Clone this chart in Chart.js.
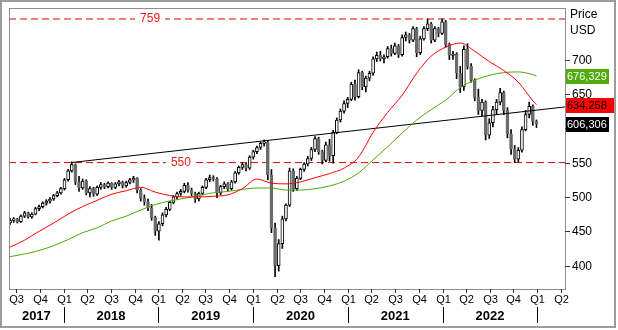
<!DOCTYPE html>
<html>
<head>
<meta charset="utf-8">
<script src="https://cdn.jsdelivr.net/npm/chart.js@4.4.0/dist/chart.umd.min.js"></script>
<style>
  html, body { margin: 0; padding: 0; background: #fff; }
  canvas { display: block; }
</style>
</head>
<body>
<canvas id="chart" width="618" height="330"></canvas>
<script>
// biweekly candles, x = days since 2020-01-01
const firstDay = -937;
const stepDays = 14;

const opens = [
  462,466,468,464,472,477,471,475,483,486,
  491,494,497,502,506,512,525,538,547,522,
  513,523,506,512,504,514,518,515,520,514,
  519,522,516,521,525,527,510,498,493,484,
  470,450,461,474,482,492,500,505,508,517,
  510,505,497,505,514,525,528,526,506,515,
  519,512,522,535,543,547,542,558,566,572,
  578,580,532,455,400,432,468,488,538,512,
  527,540,548,556,569,585,566,553,576,560,
  594,612,625,636,642,664,646,681,660,673,
  680,701,706,701,704,716,709,720,707,732,
  736,728,745,710,730,745,752,728,745,738,
  755,722,706,708,680,660,715,690,670,645,
  626,638,590,608,627,638,652,626,592,570,
  555,568,598,620,632,610
];
const highs = [
  469,470,469,474,479,478,477,485,488,493,
  496,499,504,508,514,527,540,551,548,530,
  526,525,515,514,516,521,520,522,521,521,
  524,523,523,527,530,528,512,503,497,489,
  472,464,477,485,494,502,507,511,520,521,
  513,507,507,516,527,532,531,528,517,522,
  521,524,537,545,550,549,560,568,574,580,
  583,582,540,462,438,472,490,542,541,530,
  542,550,559,572,588,587,568,580,584,597,
  615,628,640,645,667,670,685,683,676,683,
  704,711,712,707,719,721,724,722,736,740,
  738,748,747,734,748,759,754,748,747,759,
  757,724,712,710,690,720,723,694,672,657,
  642,640,614,632,642,658,654,630,598,575,
  572,602,626,638,634,612
];
const lows = [
  460,463,462,463,470,469,469,474,480,484,
  488,491,495,500,504,510,523,536,518,508,
  511,503,500,501,502,511,512,513,511,512,
  516,513,514,519,521,506,494,488,480,466,
  444,437,458,471,480,490,497,502,506,507,
  502,492,494,503,512,522,523,499,503,512,
  509,510,520,533,540,538,540,555,563,569,
  574,525,448,384,392,425,465,486,508,510,
  525,537,545,553,566,562,548,551,552,549,
  592,609,622,630,640,641,644,656,653,669,
  677,697,698,695,702,705,707,703,705,727,
  724,726,704,707,728,742,724,726,733,736,
  718,700,700,672,652,655,686,667,640,620,
  618,583,585,602,620,634,620,586,562,550,
  551,565,596,615,604,601
];
const closes = [
  466,468,464,472,477,471,475,483,486,491,
  494,497,502,506,512,525,538,547,522,513,
  523,506,512,504,514,518,515,520,514,519,
  522,516,521,525,527,510,498,493,484,470,
  450,461,474,482,492,500,505,508,517,510,
  505,497,505,514,525,528,526,506,515,519,
  512,522,535,543,547,542,558,566,572,578,
  580,532,455,400,432,468,488,538,512,527,
  540,548,556,569,585,566,553,576,560,594,
  612,625,636,642,664,646,681,660,673,680,
  701,706,701,704,716,709,720,707,732,736,
  728,745,710,730,745,752,728,745,738,755,
  722,706,708,680,660,715,690,670,645,626,
  638,590,608,627,638,652,626,592,570,555,
  568,598,620,632,610,606.306
];

// moving averages at every 4th candle
const maIndex = [0,4,8,12,16,20,24,28,32,36,40,44,48,52,56,60,64,68,72,76,80,84,88,92,96,100,104,108,112,116,120,124,128,132,136,140,144,145];
const redMA = [427,437,450,462,475,486,495,504,509,514,507,502,500,500,501,503,512,526,520,519,522,528,534,542,558,594,623,648,680,705,718,724,712,697,684,667,640,634.258];
const greenMA = [413,417,422,429,438,448,455,465,472,481,489,494,498,502,506,508,511,513,513,510,510,512,516,523,535,554,573,593,612,627,641,659,670,677,681,682,678,676.329];

const trendDays = [-702, 1203];
const trendValues = [550, 631];

const levels = [759, 550];
const levelLabelDays = [-397, -278];

const yTicks = [400, 450, 500, 550, 600, 650, 700];
const quarterStarts = ['2017-07-01','2017-10-01','2018-01-01','2018-04-01','2018-07-01','2018-10-01',
  '2019-01-01','2019-04-01','2019-07-01','2019-10-01','2020-01-01','2020-04-01','2020-07-01','2020-10-01',
  '2021-01-01','2021-04-01','2021-07-01','2021-10-01','2022-01-01','2022-04-01','2022-07-01','2022-10-01',
  '2023-01-01','2023-04-01'];
const quarterLabels = ['Q3','Q4','Q1','Q2','Q3','Q4','Q1','Q2','Q3','Q4','Q1','Q2','Q3','Q4','Q1','Q2','Q3','Q4','Q1','Q2','Q3','Q4','Q1','Q2'];
const years = ['2017','2018','2019','2020','2021','2022'];

const X_MIN = -941, X_MAX = 1203;
const FONT = '"Liberation Sans", Arial, sans-serif';

function dayOf(i) { return firstDay + i * stepDays; }
function dateToDay(s) {
  const [y, m, d] = s.split('-').map(Number);
  return (Date.UTC(y, m - 1, d) - Date.UTC(2020, 0, 1)) / 864e5;
}
const isUp = i => closes[i] >= opens[i];

const wickData = closes.map((c, i) => ({ x: dayOf(i), y: [lows[i], highs[i]] }));
const bodyData = closes.map((c, i) => ({ x: dayOf(i), y: [opens[i], c] }));
const redData = maIndex.map((k, j) => ({ x: dayOf(k), y: redMA[j] }));
const greenData = maIndex.map((k, j) => ({ x: dayOf(k), y: greenMA[j] }));
const trendData = trendDays.map((d, j) => ({ x: d, y: trendValues[j] }));

const decorations = {
  id: 'decorations',
  afterDraw(chart) {
    const { ctx, chartArea: a, scales: { x, y } } = chart;
    ctx.save();

    // level labels on the dashed lines
    ctx.font = '12px ' + FONT;
    ctx.textAlign = 'center';
    ctx.textBaseline = 'middle';
    levels.forEach((v, i) => {
      const px = x.getPixelForValue(levelLabelDays[i]);
      const py = y.getPixelForValue(v);
      const w = ctx.measureText(String(v)).width + 10;
      ctx.fillStyle = '#fff';
      ctx.fillRect(px - w / 2, py - 2, w, 4);
      ctx.fillStyle = '#f02020';
      ctx.fillText(String(v), px, py);
    });

    // frames
    ctx.strokeStyle = '#9c9c9c';
    ctx.lineWidth = 2;
    ctx.strokeRect(1, 1, 614, 326);
    ctx.strokeStyle = '#8c8c9a';
    ctx.lineWidth = 1;
    ctx.strokeRect(a.left + 0.5, a.top + 0.5, a.width, a.height);

    // right axis
    ctx.strokeStyle = '#333';
    ctx.fillStyle = '#000';
    ctx.textAlign = 'left';
    yTicks.forEach(v => {
      const py = Math.round(y.getPixelForValue(v)) + 0.5;
      ctx.beginPath();
      ctx.moveTo(a.right, py);
      ctx.lineTo(a.right + 5, py);
      ctx.stroke();
      ctx.fillText(String(v), a.right + 7, py);
    });
    ctx.fillText('Price', a.right + 5, 15);
    ctx.fillText('USD', a.right + 5, 31);

    // last value boxes
    ctx.font = '11px ' + FONT;
    const boxes = [
      { v: greenMA[greenMA.length - 1], bg: '#52ab0e', fg: '#fff', w: 41 },
      { v: redMA[redMA.length - 1], bg: '#ff0000', fg: '#000', w: 48 },
      { v: closes[closes.length - 1], bg: '#000', fg: '#fff', w: 41 }
    ];
    boxes.forEach(b => {
      const txt = b.v.toFixed(3).replace('.', ',');
      const w = Math.max(b.w, Math.ceil(ctx.measureText(txt).width) + 3);
      const py = y.getPixelForValue(b.v);
      ctx.fillStyle = b.bg;
      ctx.fillRect(a.right + 1, Math.round(py) - 7, w, 15);
      ctx.fillStyle = b.fg;
      ctx.fillText(txt, a.right + 2, py + 1);
    });

    // x axis quarters
    ctx.textAlign = 'center';
    ctx.font = '11px ' + FONT;
    ctx.fillStyle = '#000';
    quarterStarts.forEach((s, i) => {
      const px = Math.round(x.getPixelForValue(dateToDay(s))) + 0.5;
      ctx.beginPath();
      ctx.moveTo(px, a.bottom);
      ctx.lineTo(px, a.bottom + 4);
      ctx.stroke();
      ctx.fillText(quarterLabels[i], px, a.bottom + 11);
    });

    // years
    ctx.font = 'bold 13px ' + FONT;
    ctx.strokeStyle = '#000';
    years.forEach(yr => {
      const start = Math.max(a.left, x.getPixelForValue(dateToDay(yr + '-01-01')));
      const end = x.getPixelForValue(dateToDay((+yr + 1) + '-01-01'));
      const sx = Math.round(end) + 0.5;
      ctx.beginPath();
      ctx.moveTo(sx, 307);
      ctx.lineTo(sx, 323);
      ctx.stroke();
      ctx.fillText(yr, (start + end) / 2, 316);
    });
    ctx.restore();
  }
};

const ctx = document.getElementById('chart').getContext('2d');
new Chart(ctx, {
  type: 'bar',
  data: {
    datasets: [
      { type: 'line', data: redData, borderColor: '#ff0000', borderWidth: 1, pointRadius: 0, cubicInterpolationMode: 'monotone', order: 0 },
      { type: 'line', data: greenData, borderColor: '#4aa80a', borderWidth: 1, pointRadius: 0, cubicInterpolationMode: 'monotone', order: 0 },
      { type: 'line', data: trendData, borderColor: '#000', borderWidth: 1, pointRadius: 0, order: 0 },
      ...levels.map(v => ({
        type: 'line',
        data: [{ x: X_MIN, y: v }, { x: X_MAX, y: v }],
        borderColor: '#e40000', borderWidth: 1, borderDash: [7, 4], pointRadius: 0, order: 3
      })),
      {
        data: bodyData,
        barThickness: 3,
        grouped: false,
        borderWidth: 1,
        borderSkipped: false,
        backgroundColor: c => isUp(c.dataIndex) ? '#ffffff' : '#6b6b6b',
        borderColor: c => isUp(c.dataIndex) ? '#000000' : '#6b6b6b',
        order: 1
      },
      {
        data: wickData,
        barThickness: 1,
        grouped: false,
        borderWidth: 0,
        backgroundColor: '#000',
        order: 2
      }
    ]
  },
  options: {
    responsive: false,
    animation: false,
    devicePixelRatio: 1,
    layout: { padding: { left: 9, top: 8, right: 53, bottom: 41 } },
    plugins: { legend: { display: false }, tooltip: { enabled: false } },
    scales: {
      x: { type: 'linear', min: X_MIN, max: X_MAX, display: false, offset: false },
      y: { type: 'linear', min: 366, max: 775, display: false }
    }
  },
  plugins: [decorations]
});
</script>
</body>
</html>
